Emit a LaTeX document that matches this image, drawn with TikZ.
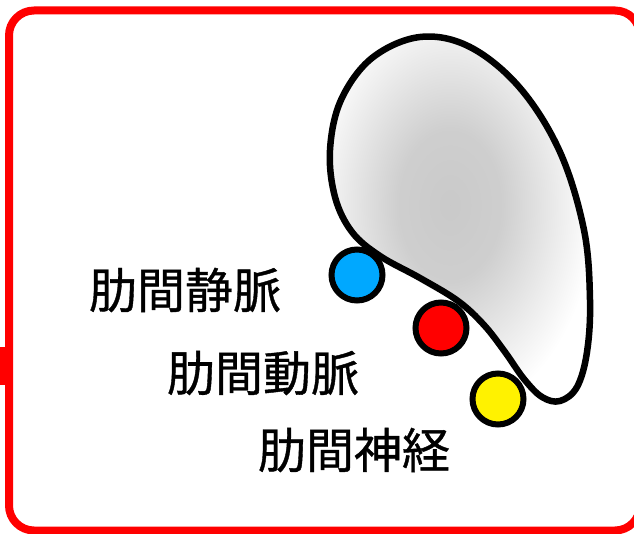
\documentclass[tikz,border=0pt]{standalone}
\usepackage{fontspec}
\newfontfamily\jpfont[FakeBold=0.8]{Noto Sans CJK JP}
\pgfdeclareradialshading{ribglow}{\pgfpoint{0bp}{0bp}}{%
  color(0bp)=(black!21); color(9bp)=(black!19); color(19bp)=(black!7);
  color(25bp)=(white); color(50bp)=(white)}
\begin{document}
\begin{tikzpicture}[x=1pt,y=-1pt,
  frame/.style={draw=red, line width=8pt, rounded corners=25pt},
  vessel/.style={circle, draw=black, line width=6pt, minimum size=51pt, inner sep=0pt},
  lbl/.style={font=\jpfont\fontsize{48}{48}\selectfont, inner sep=0pt}]
\useasboundingbox (0,0) rectangle (634,534);
\definecolor{veinblue}{RGB}{0,168,255}
% outer frame and its side tab
\draw[frame] (9,10.5) rectangle (640,530.5);
\fill[red] (0,347) rectangle (9,385);
% rib cross-section with soft grey centre
\def\ribpath{plot[smooth cycle, tension=0.6] coordinates {(372,58) (420,37) (470,47) (520,88) (560,152) (584,230) (590,300) (587,352) (577,387) (560,401) (542,397) (524,379) (505,352) (484,325) (458,301) (420,278) (380,256) (352,232) (335,197) (330,150) (341,100)}}
\begin{scope}
  \clip \ribpath;
  \fill[white] (320,20) rectangle (600,410);
  \shade[shading=ribglow] (450,205) ellipse (145 and 210);
\end{scope}
\draw[line width=6.5pt, line join=round] \ribpath;
% vessels and nerve
\node[vessel, fill=veinblue] (vein) at (357,275) {};
\node[vessel, fill=red] (artery) at (441,328) {};
\node[vessel, fill=yellow] (nerve) at (498,399) {};
% labels
\node[lbl] (tvein) at (185,290) {肋間静脈};
\node[lbl] (tartery) at (263,373) {肋間動脈};
\node[lbl] (tnerve) at (354,450) {肋間神経};
\end{tikzpicture}
\end{document}
